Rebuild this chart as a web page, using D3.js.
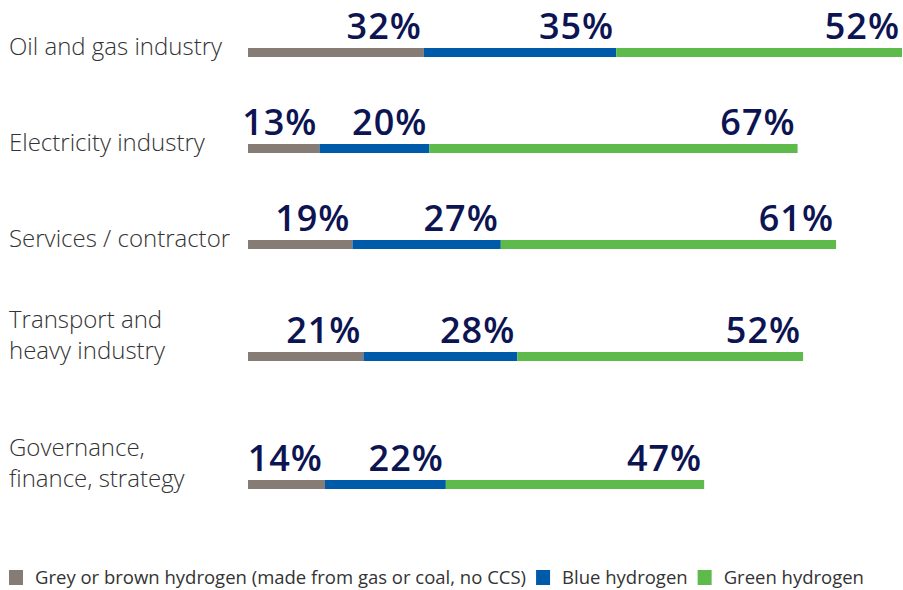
<!DOCTYPE html>
<html><head><meta charset="utf-8">
<script src="https://cdn.jsdelivr.net/npm/d3@7"></script>
<style>body{margin:0;background:#fff}svg{display:block}</style>
</head><body><svg id="c" width="903" height="590"></svg>
<script>
const categories = [["Oil and gas industry"],["Electricity industry"],["Services / contractor"],["Transport and","heavy industry"],["Governance,","finance, strategy"]];
const grey = [32,13,19,21,14];
const blue = [35,20,27,28,22];
const green = [52,67,61,52,47];
const seriesNames = ["Grey or brown hydrogen (made from gas or coal, no CCS)","Blue hydrogen","Green hydrogen"];
const colors = ["#877b76","#005aaa","#5dba4b"];

const svg = d3.select("#c");
const series = [grey, blue, green];
const totals = categories.map((c,i)=>grey[i]+blue[i]+green[i]);
const x = d3.scaleLinear().domain([0, d3.max(totals)]).range([248, 902]);

// row layout: base spacing plus extra space per extra label line
const barH = 9;
const tops = [];
let y = 48;
categories.forEach((c,i)=>{
  tops.push(y);
  if(i<categories.length-1) y += 96 + 16*(c.length-1) + 16*(categories[i+1].length-1);
});

const rows = svg.selectAll("g.row").data(categories).join("g").attr("class","row");
rows.each(function(cat,i){
  const g = d3.select(this);
  let cum = 0;
  series.forEach((s,k)=>{
    const v = s[i];
    g.append("rect").attr("x", x(cum)).attr("y", tops[i]).attr("width", x(cum+v)-x(cum)).attr("height", barH).attr("fill", colors[k]);
    g.append("text").attr("x", x(cum+v)-2).attr("y", tops[i]-9).attr("text-anchor","end")
      .attr("font-family","'Open Sans', sans-serif").attr("font-weight",600).attr("font-size",36)
      .attr("letter-spacing",1).attr("fill","#0d1452").text(v+"%");
    cum += v;
  });
  const n = cat.length;
  cat.forEach((line,j)=>{
    g.append("text").attr("x",9).attr("y", tops[i]+barH-2 - (n-1-j)*31)
      .attr("font-family","'Open Sans', sans-serif").attr("font-weight",300).attr("font-size",24).attr("fill","#333")
      .text(line);
  });
});

// legend
const leg = svg.append("g");
let lx = 9;
seriesNames.forEach((nm,k)=>{
  leg.append("rect").attr("x",lx).attr("y",570).attr("width",14).attr("height",15).attr("fill",colors[k]);
  const t = leg.append("text").attr("x",lx+26).attr("y",584).attr("font-family","'Open Sans', sans-serif")
    .attr("font-size",18.5).attr("fill","#333").text(nm);
  lx += 26 + t.node().getComputedTextLength() + 10;
});
</script></body></html>
